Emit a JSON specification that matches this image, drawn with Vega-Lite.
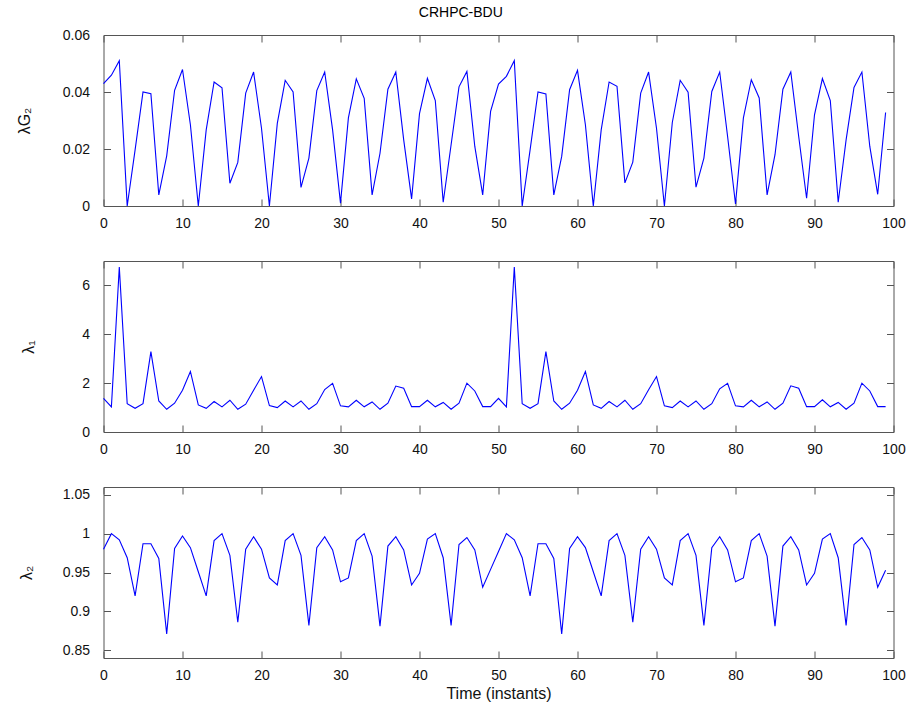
{
  "$schema": "https://vega.github.io/schema/vega-lite/v6.json",
  "autosize": {"type": "pad"},
  "padding": {"left": 15.5, "top": 5, "right": 5, "bottom": 5},
  "background": "white",
  "title": {"text": "CRHPC-BDU", "anchor": "middle", "fontSize": 14, "fontWeight": "normal", "font": "Liberation Sans", "color": "#000", "offset": 8},
  "spacing": 55,
  "bounds": "flush",
  "datasets": {
    "s": [
      {"t":0,"g":0.0429,"l1":1.38,"l2":0.980},{"t":1,"g":0.0459,"l1":1.03,"l2":1.000},{"t":2,"g":0.0510,"l1":6.75,"l2":0.992},{"t":3,"g":0,"l1":1.16,"l2":0.969},{"t":4,"g":0.0197,"l1":0.97,"l2":0.920},
      {"t":5,"g":0.0400,"l1":1.16,"l2":0.987},{"t":6,"g":0.0394,"l1":3.29,"l2":0.987},{"t":7,"g":0.0039,"l1":1.27,"l2":0.968},{"t":8,"g":0.0176,"l1":0.93,"l2":0.871},{"t":9,"g":0.0406,"l1":1.18,"l2":0.981},
      {"t":10,"g":0.0479,"l1":1.71,"l2":0.997},{"t":11,"g":0.0285,"l1":2.48,"l2":0.982},{"t":12,"g":0,"l1":1.11,"l2":0.951},{"t":13,"g":0.0267,"l1":0.97,"l2":0.920},{"t":14,"g":0.0435,"l1":1.25,"l2":0.991},
      {"t":15,"g":0.0415,"l1":1.03,"l2":1.000},{"t":16,"g":0.0080,"l1":1.30,"l2":0.972},{"t":17,"g":0.0153,"l1":0.93,"l2":0.886},{"t":18,"g":0.0396,"l1":1.14,"l2":0.980},{"t":19,"g":0.0470,"l1":1.71,"l2":0.996},
      {"t":20,"g":0.0273,"l1":2.27,"l2":0.980},{"t":21,"g":0,"l1":1.08,"l2":0.943},{"t":22,"g":0.0290,"l1":1.00,"l2":0.934},{"t":23,"g":0.0441,"l1":1.27,"l2":0.991},{"t":24,"g":0.0400,"l1":1.03,"l2":1.000},
      {"t":25,"g":0.0065,"l1":1.27,"l2":0.972},{"t":26,"g":0.0168,"l1":0.93,"l2":0.882},{"t":27,"g":0.0405,"l1":1.16,"l2":0.982},{"t":28,"g":0.0470,"l1":1.74,"l2":0.996},{"t":29,"g":0.0267,"l1":1.99,"l2":0.979},
      {"t":30,"g":0.0010,"l1":1.07,"l2":0.938},{"t":31,"g":0.0309,"l1":1.03,"l2":0.943},{"t":32,"g":0.0446,"l1":1.30,"l2":0.991},{"t":33,"g":0.0378,"l1":1.03,"l2":1.000},{"t":34,"g":0.0039,"l1":1.23,"l2":0.971},
      {"t":35,"g":0.0185,"l1":0.93,"l2":0.881},{"t":36,"g":0.0410,"l1":1.18,"l2":0.984},{"t":37,"g":0.0470,"l1":1.88,"l2":0.996},{"t":38,"g":0.0232,"l1":1.79,"l2":0.979},{"t":39,"g":0.0025,"l1":1.04,"l2":0.934},
      {"t":40,"g":0.0324,"l1":1.04,"l2":0.949},{"t":41,"g":0.0448,"l1":1.30,"l2":0.993},{"t":42,"g":0.0370,"l1":1.03,"l2":1.000},{"t":43,"g":0.0013,"l1":1.21,"l2":0.969},{"t":44,"g":0.0215,"l1":0.93,"l2":0.882},
      {"t":45,"g":0.0418,"l1":1.18,"l2":0.986},{"t":46,"g":0.0472,"l1":2.00,"l2":0.995},{"t":47,"g":0.0209,"l1":1.68,"l2":0.979},{"t":48,"g":0.0039,"l1":1.04,"l2":0.931},{"t":49,"g":0.0332,"l1":1.04,"l2":0.954},
      {"t":50,"g":0.0428,"l1":1.38,"l2":0.977},{"t":51,"g":0.0455,"l1":1.03,"l2":1.000},{"t":52,"g":0.0510,"l1":6.75,"l2":0.992},{"t":53,"g":0,"l1":1.16,"l2":0.969},{"t":54,"g":0.0197,"l1":0.97,"l2":0.920},
      {"t":55,"g":0.0400,"l1":1.16,"l2":0.987},{"t":56,"g":0.0393,"l1":3.29,"l2":0.987},{"t":57,"g":0.0039,"l1":1.27,"l2":0.968},{"t":58,"g":0.0174,"l1":0.93,"l2":0.871},{"t":59,"g":0.0408,"l1":1.18,"l2":0.981},
      {"t":60,"g":0.0476,"l1":1.71,"l2":0.996},{"t":61,"g":0.0285,"l1":2.48,"l2":0.982},{"t":62,"g":0,"l1":1.11,"l2":0.951},{"t":63,"g":0.0267,"l1":0.97,"l2":0.920},{"t":64,"g":0.0435,"l1":1.25,"l2":0.991},
      {"t":65,"g":0.0420,"l1":1.03,"l2":1.000},{"t":66,"g":0.0081,"l1":1.30,"l2":0.972},{"t":67,"g":0.0154,"l1":0.93,"l2":0.886},{"t":68,"g":0.0396,"l1":1.16,"l2":0.980},{"t":69,"g":0.0470,"l1":1.73,"l2":0.996},
      {"t":70,"g":0.0273,"l1":2.27,"l2":0.980},{"t":71,"g":0,"l1":1.07,"l2":0.943},{"t":72,"g":0.0293,"l1":1.00,"l2":0.934},{"t":73,"g":0.0441,"l1":1.27,"l2":0.991},{"t":74,"g":0.0399,"l1":1.03,"l2":1.000},
      {"t":75,"g":0.0066,"l1":1.27,"l2":0.972},{"t":76,"g":0.0168,"l1":0.93,"l2":0.882},{"t":77,"g":0.0402,"l1":1.16,"l2":0.982},{"t":78,"g":0.0470,"l1":1.77,"l2":0.996},{"t":79,"g":0.0244,"l1":1.99,"l2":0.979},
      {"t":80,"g":0.0007,"l1":1.07,"l2":0.938},{"t":81,"g":0.0309,"l1":1.03,"l2":0.943},{"t":82,"g":0.0443,"l1":1.30,"l2":0.991},{"t":83,"g":0.0379,"l1":1.03,"l2":1.000},{"t":84,"g":0.0039,"l1":1.23,"l2":0.971},
      {"t":85,"g":0.0180,"l1":0.93,"l2":0.881},{"t":86,"g":0.0410,"l1":1.18,"l2":0.984},{"t":87,"g":0.0470,"l1":1.89,"l2":0.996},{"t":88,"g":0.0244,"l1":1.79,"l2":0.979},{"t":89,"g":0.0027,"l1":1.04,"l2":0.934},
      {"t":90,"g":0.0320,"l1":1.04,"l2":0.949},{"t":91,"g":0.0447,"l1":1.32,"l2":0.993},{"t":92,"g":0.0370,"l1":1.03,"l2":1.000},{"t":93,"g":0.0013,"l1":1.21,"l2":0.969},{"t":94,"g":0.0232,"l1":0.93,"l2":0.882},
      {"t":95,"g":0.0416,"l1":1.18,"l2":0.986},{"t":96,"g":0.0470,"l1":2.00,"l2":0.995},{"t":97,"g":0.0209,"l1":1.68,"l2":0.979},{"t":98,"g":0.0041,"l1":1.04,"l2":0.931},{"t":99,"g":0.0328,"l1":1.04,"l2":0.953}
    ]
  },
  "data": {"name": "s"},
  "vconcat": [
    {
      "width": 790, "height": 171,
      "layer": [
        {"mark": {"type": "line", "color": "#0000ff", "strokeWidth": 1.1},
         "encoding": {
           "x": {"field": "t", "type": "quantitative", "scale": {"domain": [0, 100]}, "axis": {"values": [0,10,20,30,40,50,60,70,80,90,100], "title": null}},
           "y": {"field": "g", "type": "quantitative", "scale": {"domain": [0, 0.06]}, "axis": {"values": [0, 0.02, 0.04, 0.06], "format": ".2~f", "title": "λG₂", "titleX": -79}}
         }},
        {"mark": {"type": "line", "strokeOpacity": 0},
         "encoding": {
           "x": {"field": "t", "type": "quantitative", "axis": {"orient": "top", "values": [0,10,20,30,40,50,60,70,80,90,100], "labels": false, "title": null}},
           "y": {"field": "g", "type": "quantitative", "axis": {"orient": "right", "values": [0, 0.02, 0.04, 0.06], "labels": false, "title": null}}
         }}
      ],
      "resolve": {"axis": {"x": "independent", "y": "independent"}}
    },
    {
      "width": 790, "height": 171,
      "layer": [
        {"mark": {"type": "line", "color": "#0000ff", "strokeWidth": 1.1},
         "encoding": {
           "x": {"field": "t", "type": "quantitative", "scale": {"domain": [0, 100]}, "axis": {"values": [0,10,20,30,40,50,60,70,80,90,100], "title": null}},
           "y": {"field": "l1", "type": "quantitative", "scale": {"domain": [0, 7]}, "axis": {"values": [0, 2, 4, 6], "title": "λ₁", "titleX": -75}}
         }},
        {"mark": {"type": "line", "strokeOpacity": 0},
         "encoding": {
           "x": {"field": "t", "type": "quantitative", "axis": {"orient": "top", "values": [0,10,20,30,40,50,60,70,80,90,100], "labels": false, "title": null}},
           "y": {"field": "l1", "type": "quantitative", "axis": {"orient": "right", "values": [0, 2, 4, 6], "labels": false, "title": null}}
         }}
      ],
      "resolve": {"axis": {"x": "independent", "y": "independent"}}
    },
    {
      "width": 790, "height": 171,
      "layer": [
        {"mark": {"type": "line", "color": "#0000ff", "strokeWidth": 1.1},
         "encoding": {
           "x": {"field": "t", "type": "quantitative", "scale": {"domain": [0, 100]}, "axis": {"values": [0,10,20,30,40,50,60,70,80,90,100], "title": "Time (instants)"}},
           "y": {"field": "l2", "type": "quantitative", "scale": {"domain": [0.85, 1.05]}, "axis": {"values": [0.85, 0.9, 0.95, 1, 1.05], "format": "~g", "title": "λ₂", "titleX": -77}}
         }},
        {"mark": {"type": "line", "strokeOpacity": 0},
         "encoding": {
           "x": {"field": "t", "type": "quantitative", "axis": {"orient": "top", "values": [0,10,20,30,40,50,60,70,80,90,100], "labels": false, "title": null}},
           "y": {"field": "l2", "type": "quantitative", "axis": {"orient": "right", "values": [0.85, 0.9, 0.95, 1, 1.05], "labels": false, "title": null}}
         }}
      ],
      "resolve": {"axis": {"x": "independent", "y": "independent"}}
    }
  ],
  "config": {
    "view": {"stroke": "#555", "strokeWidth": 1},
    "axis": {
      "grid": false, "domain": false,
      "tickColor": "#555", "tickSize": -7, "tickWidth": 1,
      "labelFont": "Liberation Sans", "labelFontSize": 14, "labelColor": "#111", "labelFlush": false,
      "titleFont": "Liberation Sans", "titleFontSize": 16, "titleFontWeight": "normal", "titleColor": "#111"
    },
    "axisY": {"labelPadding": 21, "titleBaseline": "middle"},
    "axisX": {"labelPadding": 17, "titlePadding": 3}
  }
}
